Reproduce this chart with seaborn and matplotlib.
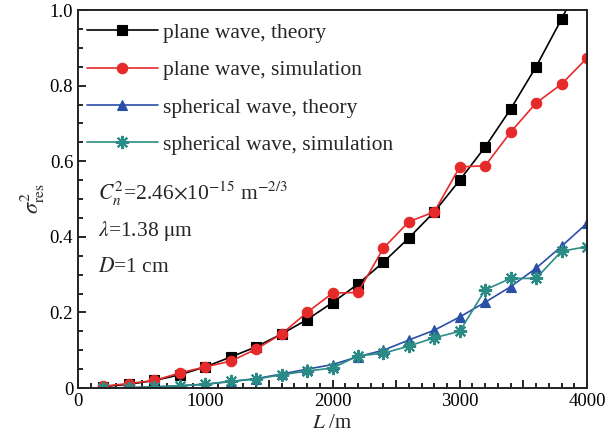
import numpy as np
import pandas as pd
import matplotlib
matplotlib.use("Agg")
import matplotlib.pyplot as plt
from matplotlib.ticker import MultipleLocator, FuncFormatter
import seaborn as sns

# dados
L = [200, 400, 600, 800, 1000, 1200, 1400, 1600, 1800, 2000,
     2200, 2400, 2600, 2800, 3000, 3200, 3400, 3600, 3800, 4000]
plane_theory = [0.004, 0.01, 0.02, 0.035, 0.056, 0.082, 0.109, 0.143, 0.181, 0.226,
                0.275, 0.333, 0.397, 0.466, 0.55, 0.638, 0.738, 0.85, 0.976, 1.11]
plane_sim = [0.005, 0.012, 0.02, 0.04, 0.056, 0.071, 0.103, 0.143, 0.2, 0.251,
             0.253, 0.37, 0.44, 0.466, 0.585, 0.588, 0.677, 0.754, 0.804, 0.873]
sph_theory = [0.0003, 0.001, 0.003, 0.006, 0.01, 0.017, 0.025, 0.037, 0.05, 0.062,
              0.083, 0.1, 0.127, 0.153, 0.188, 0.227, 0.268, 0.317, 0.375, 0.436]
sph_sim = [0.0, 0.001, 0.003, 0.006, 0.01, 0.018, 0.024, 0.035, 0.045, 0.053,
           0.085, 0.092, 0.111, 0.133, 0.15, 0.26, 0.29, 0.29, 0.362, 0.374]
labels = ["plane wave, theory", "plane wave, simulation",
          "spherical wave, theory", "spherical wave, simulation"]

sns.set_style("ticks")
plt.rcParams["font.family"] = ["Liberation Serif", "DejaVu Serif"]
plt.rcParams["mathtext.fontset"] = "stix"

fig = plt.figure(figsize=(6.11, 4.45), dpi=100)
ax = fig.add_axes([0.1277, 0.128, 0.833, 0.8495])

series = [
    (plane_theory, "black", "s", 6.5),
    (plane_sim, "#e62a2a", "o", 7.5),
    (sph_theory, "#2a4fa6", "^", 7.5),
    (sph_sim, "#2a8c84", (8, 2, 0), 9.5),
]
for (vals, col, mk, ms), lab in zip(series, labels):
    sns.lineplot(x=L, y=vals, color=col, marker=mk, markersize=ms,
                 markeredgecolor=col, markeredgewidth=1.5 if mk == (8, 2, 0) else 0.8,
                 linewidth=1.2, label=lab, ax=ax)

ax.set_xlim(0, 4000)
ax.set_ylim(0, 1.0)
ax.xaxis.set_major_locator(MultipleLocator(500))
ax.xaxis.set_minor_locator(MultipleLocator(100))
ax.xaxis.set_major_formatter(FuncFormatter(lambda v, p: f"{int(v)}" if v % 1000 == 0 else ""))
ax.yaxis.set_major_locator(MultipleLocator(0.2))
ax.yaxis.set_minor_locator(MultipleLocator(0.05))
ax.yaxis.set_major_formatter(FuncFormatter(lambda v, p: "0" if v == 0 else f"{v:.1f}"))
ax.tick_params(which="both", direction="in", width=1.2, labelsize=13.5, colors="black")
ax.tick_params(which="major", length=6)
ax.tick_params(which="minor", length=3.5)
for s in ax.spines.values():
    s.set_linewidth(1.4)
    s.set_color("#222222")

ax.set_xlabel("$L$ /m", fontsize=15, labelpad=3)
ax.set_ylabel(r"$\sigma^2_{\rm res}$", fontsize=16, labelpad=2)

leg = ax.legend(loc="upper left", frameon=False, fontsize=15.5, handlelength=3.3,
                handletextpad=0.25, labelspacing=0.8, borderaxespad=0.2,
                bbox_to_anchor=(-0.008, 1.0))

ax.text(0.04, 0.515, r"$C_n^2$=2.46$\times$10$^{-15}$ m$^{-2/3}$", transform=ax.transAxes,
        fontsize=15.5, va="center")
ax.text(0.04, 0.415, r"$\lambda$=1.38 $\mathrm{\mu}$m", transform=ax.transAxes,
        fontsize=15.5, va="center")
ax.text(0.04, 0.32, r"$D$=1 cm", transform=ax.transAxes, fontsize=15.5, va="center")

fig.savefig("out.png", dpi=100, facecolor="white")
